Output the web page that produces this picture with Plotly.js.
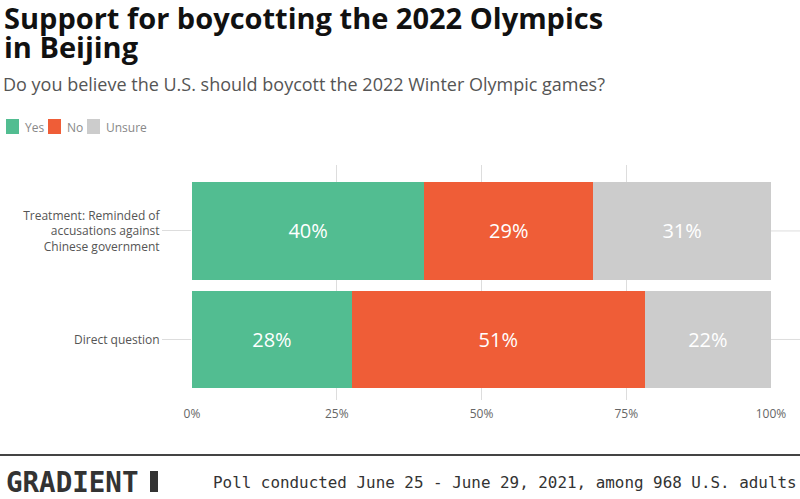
<!DOCTYPE html>
<html>
<head>
<meta charset="utf-8">
<script src="https://cdn.plot.ly/plotly-3.0.1.min.js"></script>
<style>html,body{margin:0;padding:0;background:#fff;}#chart{width:800px;height:499px;}</style>
</head>
<body>
<div id="chart"></div>
<script>
// Data
var groups = ["Treatment: Reminded of<br>accusations against<br>Chinese government", "Direct question"];
var groupPos = [1, 0];
var yesVals = [40.1, 27.6];
var noVals = [29.2, 50.6];
var unsureVals = [30.7, 21.8];
var yesLabels = ["40%", "28%"];
var noLabels = ["29%", "51%"];
var unsureLabels = ["31%", "22%"];
var seriesNames = ["Yes", "No", "Unsure"];
var xTickVals = [0, 25, 50, 75, 100];
var xTickText = ["0%", "25%", "50%", "75%", "100%"];

var colors = ["#52BD91", "#EF5D37", "#CCCCCC"];
var sans = "Open Sans, sans-serif";
var mono = "DejaVu Sans Mono, monospace";

function mk(name, vals, labels, color) {
  return {
    type: "bar", orientation: "h", name: name,
    x: vals, y: groupPos, text: labels,
    textposition: "inside", insidetextanchor: "middle", textangle: 0,
    constraintext: "none",
    textfont: {family: sans, size: 20, color: "#ffffff"},
    marker: {color: color, line: {width: 0}},
    width: 0.9, hoverinfo: "none", showlegend: false
  };
}
var data = [
  mk(seriesNames[0], yesVals, yesLabels, colors[0]),
  mk(seriesNames[1], noVals, noLabels, colors[1]),
  mk(seriesNames[2], unsureVals, unsureLabels, colors[2])
];

// pixel helpers: plot area spans x 192..771, y 165..400
function py(Y) { return (400 - Y) / 235; }
function px(X) { return (X - 192) / 579; }

var shapes = [
  {type: "line", xref: "paper", yref: "y", x0: 1, x1: px(800), y0: 1, y1: 1, line: {color: "#dddddd", width: 1}},
  {type: "line", xref: "paper", yref: "y", x0: 1, x1: px(800), y0: 0, y1: 0, line: {color: "#dddddd", width: 1}},
  {type: "line", xref: "paper", yref: "paper", x0: px(0), x1: px(800), y0: py(455), y1: py(455), line: {color: "#444444", width: 2}},
  {type: "rect", xref: "paper", yref: "paper", x0: px(150), x1: px(158), y0: py(471), y1: py(492), fillcolor: "#333333", line: {width: 0}}
];
var annotations = [
  {text: "<b>Support for boycotting the 2022 Olympics</b>", xref: "paper", yref: "paper", x: px(2), y: py(17), xanchor: "left", yanchor: "middle", showarrow: false, font: {family: sans, size: 29, color: "#111111"}},
  {text: "<b>in Beijing</b>", xref: "paper", yref: "paper", x: px(2), y: py(46), xanchor: "left", yanchor: "middle", showarrow: false, font: {family: sans, size: 29, color: "#111111"}},
  {text: "Do you believe the U.S. should boycott the 2022 Winter Olympic games?", xref: "paper", yref: "paper", x: px(1), y: py(84), xanchor: "left", yanchor: "middle", showarrow: false, font: {family: sans, size: 18, color: "#555555"}},
  {text: "<b>GRADIENT</b>", xref: "paper", yref: "paper", x: px(4), y: py(482), xanchor: "left", yanchor: "middle", showarrow: false, font: {family: mono, size: 27.5, color: "#333333"}},
  {text: "Poll conducted June 25 - June 29, 2021, among 968 U.S. adults", xref: "paper", yref: "paper", x: px(799), y: py(482), xanchor: "right", yanchor: "middle", showarrow: false, font: {family: mono, size: 15.9, color: "#333333"}}
];
// manual legend
var legX = [6, 48, 87];
for (var i = 0; i < seriesNames.length; i++) {
  shapes.push({type: "rect", xref: "paper", yref: "paper", x0: px(legX[i]), x1: px(legX[i] + 13), y0: py(119), y1: py(134), fillcolor: colors[i], line: {width: 0}});
  annotations.push({text: seriesNames[i], xref: "paper", yref: "paper", x: px(legX[i] + 17), y: py(127), xanchor: "left", yanchor: "middle", showarrow: false, font: {family: sans, size: 12, color: "#888888"}});
}

var layout = {
  width: 800, height: 499,
  margin: {l: 192, r: 29, t: 165, b: 99, pad: 0},
  paper_bgcolor: "#ffffff", plot_bgcolor: "#ffffff",
  barmode: "stack", bargap: 0.1,
  showlegend: false,
  xaxis: {
    range: [0, 100], tickvals: xTickVals, ticktext: xTickText,
    showgrid: true, gridcolor: "#dddddd", gridwidth: 1,
    zeroline: false, showline: false, ticks: "", ticklabelstandoff: 5,
    tickfont: {family: sans, size: 12, color: "#666666"},
    fixedrange: true, automargin: false
  },
  yaxis: {
    range: [-0.558, 1.608], tickvals: groupPos, ticktext: groups,
    showgrid: true, gridcolor: "#dddddd", gridwidth: 1,
    zeroline: false, showline: false,
    ticks: "outside", ticklen: 29, tickcolor: "#dddddd", tickwidth: 1,
    tickfont: {family: sans, size: 12, color: "#555555"},
    fixedrange: true, automargin: false
  },
  shapes: shapes,
  annotations: annotations
};

Plotly.newPlot("chart", data, layout, {displayModeBar: false, staticPlot: true});
</script>
</body>
</html>
